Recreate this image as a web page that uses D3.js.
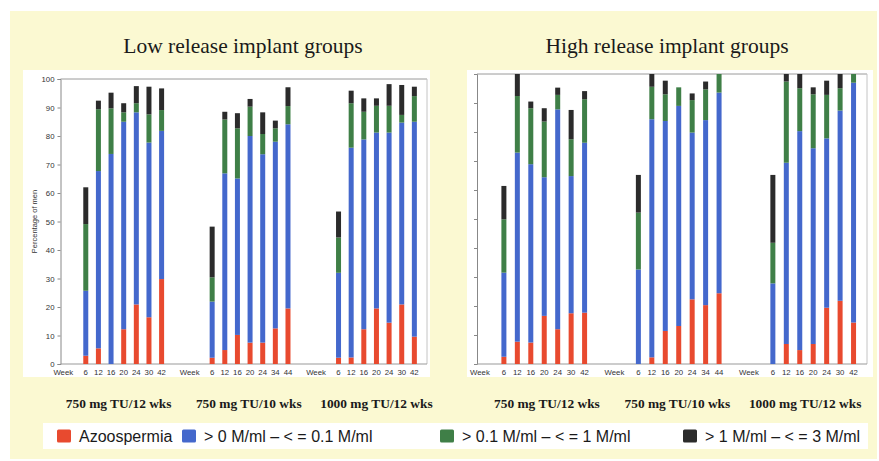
<!DOCTYPE html>
<html>
<head>
<meta charset="utf-8">
<script src="https://cdn.jsdelivr.net/npm/d3@7/dist/d3.min.js"></script>
<style>
  html, body { margin: 0; padding: 0; background: #ffffff; }
  svg { display: block; }
</style>
</head>
<body>
<svg id="chart" width="879" height="461"></svg>
<script>
// ---------------- DATA ----------------
const panelTitles = ["Low release implant groups", "High release implant groups"];
const doseLabels = ["750 mg TU/12 wks", "750 mg TU/10 wks", "1000 mg TU/12 wks"];
const weeksByGroup = [
  ["6", "12", "16", "20", "24", "30", "42"],
  ["6", "12", "16", "20", "24", "34", "44"],
  ["6", "12", "16", "20", "24", "30", "42"]
];
const yTicks = [0, 10, 20, 30, 40, 50, 60, 70, 80, 90, 100];
const yAxisLabel = "Percentage of men";
const weekLabel = "Week";
const legendLabels = ["Azoospermia", "> 0 M/ml \u2013 < = 0.1 M/ml", "> 0.1 M/ml \u2013 < = 1 M/ml", "> 1 M/ml \u2013 < = 3 M/ml"];

// Low release: segment values (%), 21 bars = 3 groups x 7 weeks
const lowAzoo  = [2.9, 5.5, 0.0, 12.2, 20.9, 16.4, 29.8,   2.2, 4.9, 10.2, 7.5, 7.5, 12.5, 19.5,   2.2, 2.3, 12.2, 19.5, 14.5, 20.9, 9.6];
const lowBlue  = [22.8, 62.2, 73.7, 72.8, 67.4, 61.3, 52.0,  19.7, 62.0, 54.9, 72.5, 66.1, 65.5, 64.6,  29.8, 73.6, 66.6, 61.7, 66.7, 63.8, 75.4];
const lowGreen = [23.4, 21.7, 16.0, 3.3, 3.2, 9.9, 7.3,   8.5, 18.9, 17.6, 10.3, 7.1, 4.7, 6.4,   12.4, 15.6, 9.7, 9.4, 9.4, 2.7, 9.0];
const lowBlack = [12.9, 3.0, 5.5, 3.2, 6.0, 9.7, 7.6,   17.8, 2.7, 5.3, 2.7, 7.6, 2.7, 6.6,   9.1, 4.4, 4.7, 2.6, 7.6, 10.5, 3.3];

// High release
const highAzoo  = [2.5, 7.7, 7.4, 16.6, 12.0, 17.5, 17.7,   0.0, 2.3, 11.4, 13.1, 22.3, 20.3, 24.4,   0.0, 6.9, 4.8, 6.9, 19.4, 21.8, 14.3];
const highBlue  = [29.0, 65.2, 61.5, 47.8, 75.8, 47.3, 58.6,   32.6, 82.1, 72.4, 75.9, 57.5, 63.8, 69.2,   27.8, 62.5, 75.5, 67.5, 58.4, 65.6, 82.7];
const highGreen = [18.4, 19.5, 19.3, 19.2, 5.0, 12.7, 15.0,   19.6, 11.2, 9.2, 6.4, 11.2, 10.6, 6.4,   14.0, 28.0, 14.8, 18.6, 15.0, 7.7, 3.0];
const highBlack = [11.5, 7.6, 2.3, 4.6, 2.5, 10.1, 2.8,   13.0, 4.4, 4.7, 0.0, 2.3, 2.7, 0.0,   23.4, 2.6, 4.9, 2.4, 4.9, 4.9, 0.0];

const colors = ["#e84a2f", "#4468cc", "#3f7f47", "#2b2b2b"];

// ---------------- LAYOUT ----------------
const svg = d3.select("#chart");
const sans = "Liberation Sans, Arial, Helvetica, sans-serif";
const serif = "Liberation Serif, Times New Roman, serif";

svg.append("rect").attr("x", 10).attr("y", 11).attr("width", 867).attr("height", 448).attr("fill", "#fbf9d2");

const panels = [
  { title: panelTitles[0], titleX: 243, box: [23, 70, 407, 307], xr: [60.5, 427], yr: [364, 79], labels: true,
    data: [lowAzoo, lowBlue, lowGreen, lowBlack], doseSlots: [4.6, 14.9, 25.0] },
  { title: panelTitles[1], titleX: 667, box: [467, 70, 406, 307], xr: [477, 867], yr: [364, 74], labels: false,
    data: [highAzoo, highBlue, highGreen, highBlack], doseSlots: [5.2, 14.9, 24.4] }
];

panels.forEach(p => {
  svg.append("text").attr("x", p.titleX).attr("y", 53).attr("text-anchor", "middle")
    .attr("font-family", serif).attr("font-size", 21.5).attr("fill", "#1a1a1a").text(p.title);

  svg.append("rect").attr("x", p.box[0]).attr("y", p.box[1]).attr("width", p.box[2]).attr("height", p.box[3]).attr("fill", "#ffffff");

  const x = d3.scaleLinear().domain([0, 29]).range(p.xr);
  const y = d3.scaleLinear().domain([0, 100]).range(p.yr);
  const g = svg.append("g");

  // frame top / right
  g.append("line").attr("x1", p.xr[0]).attr("x2", p.xr[1]).attr("y1", p.yr[1]).attr("y2", p.yr[1]).attr("stroke", "#9a9a9a").attr("stroke-width", 1);
  g.append("line").attr("x1", p.xr[1]).attr("x2", p.xr[1]).attr("y1", p.yr[1]).attr("y2", p.yr[0]).attr("stroke", "#c4c4c4").attr("stroke-width", 1);

  // y axis
  const yAxis = d3.axisLeft(y).tickValues(yTicks).tickSize(3).tickPadding(3)
    .tickFormat(p.labels ? d3.format("d") : () => "");
  const ya = g.append("g").attr("transform", `translate(${p.xr[0]},0)`).call(yAxis);
  ya.select(".domain").attr("stroke", "#888");
  ya.selectAll(".tick line").attr("stroke", "#888");
  ya.selectAll("text").attr("font-family", sans).attr("font-size", 7.8).attr("fill", "#333");

  // bottom axis line
  g.append("line").attr("x1", p.xr[0]).attr("x2", p.xr[1]).attr("y1", p.yr[0]).attr("y2", p.yr[0]).attr("stroke", "#999");

  if (p.labels) {
    g.append("text").attr("transform", `translate(37,${(p.yr[0] + p.yr[1]) / 2}) rotate(-90)`)
      .attr("text-anchor", "middle").attr("font-family", sans).attr("font-size", 7.5).attr("fill", "#333").text(yAxisLabel);
  }

  // bars
  const bars = [];
  weeksByGroup.forEach((weeks, gi) => {
    weeks.forEach((w, wi) => {
      const idx = gi * 7 + wi;
      let base = 0;
      const segs = p.data.map((arr, si) => {
        const v = arr[idx];
        const s = { y0: base, y1: Math.min(100, base + v), c: colors[si] };
        base += v;
        return s;
      });
      bars.push({ slot: gi * 10 + 2 + wi, week: w, segs });
    });
    // week label
    g.append("text").attr("x", x(gi * 10 + 0.22)).attr("y", p.yr[0] + 11).attr("text-anchor", "middle")
      .attr("font-family", sans).attr("font-size", 7.8).attr("fill", "#333").text(weekLabel);
    // dose label
    svg.append("text").attr("x", x(p.doseSlots[gi])).attr("y", 408).attr("text-anchor", "middle")
      .attr("font-family", serif).attr("font-weight", "bold").attr("font-size", 13.4).attr("fill", "#1a1a1a").text(doseLabels[gi]);
  });

  const bw = 5;
  const bg = g.selectAll("g.bar").data(bars).join("g").attr("class", "bar");
  bg.selectAll("rect").data(d => d.segs.map(s => Object.assign({ slot: d.slot }, s)).filter(s => s.y1 > s.y0))
    .join("rect")
    .attr("x", d => x(d.slot) - bw / 2)
    .attr("width", bw)
    .attr("y", d => y(d.y1))
    .attr("height", d => y(d.y0) - y(d.y1))
    .attr("fill", d => d.c);

  g.selectAll("text.wk").data(bars).join("text").attr("class", "wk")
    .attr("x", d => x(d.slot)).attr("y", p.yr[0] + 11).attr("text-anchor", "middle")
    .attr("font-family", sans).attr("font-size", 7.8).attr("fill", "#333").text(d => d.week);
});

// ---------------- LEGEND ----------------
svg.append("rect").attr("x", 43).attr("y", 423).attr("width", 825).attr("height", 26).attr("fill", "#ffffff");
const legendX = [57, 182, 440, 683];
legendLabels.forEach((lab, i) => {
  svg.append("rect").attr("x", legendX[i]).attr("y", 429.5).attr("width", 14).attr("height", 13)
    .attr("rx", 1.5).attr("fill", colors[i]);
  svg.append("text").attr("x", legendX[i] + 22).attr("y", 442).attr("font-family", sans)
    .attr("font-size", 16).attr("fill", "#1a1a1a").text(lab);
});
</script>
</body>
</html>
